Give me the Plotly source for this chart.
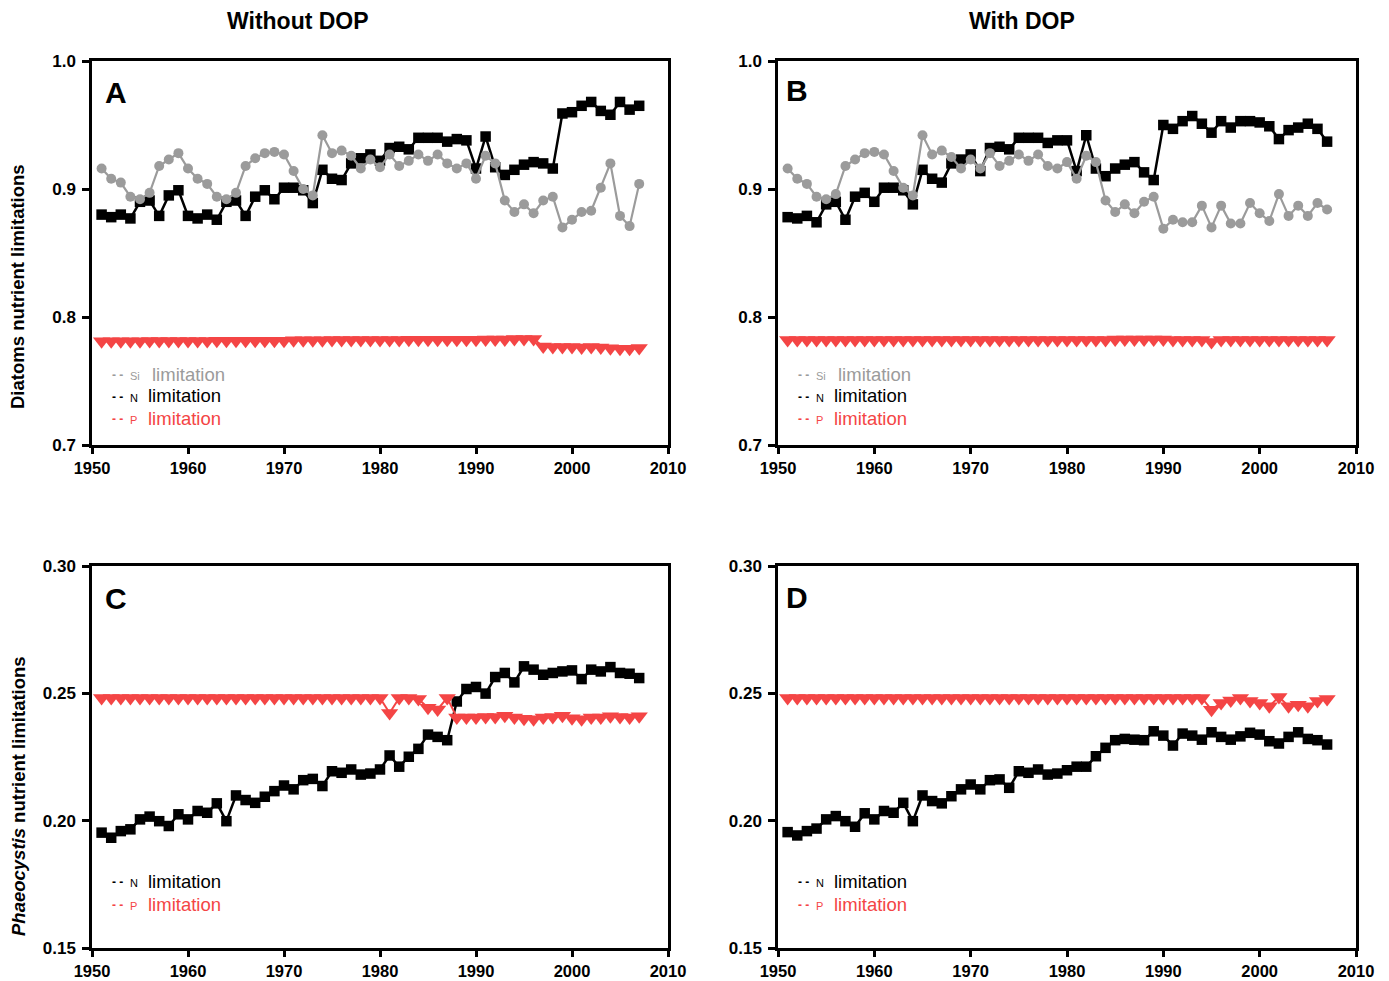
import plotly.graph_objects as go

# page body has an 8px margin: figure is drawn 8px right/down of the window corner
OFF = 8
WIN_W, WIN_H = 1389, 981
W, H = WIN_W - OFF, WIN_H - OFF
years = list(range(1951, 2008))

a_si = [0.916, 0.908, 0.905, 0.894, 0.892, 0.897, 0.918, 0.923, 0.928, 0.916,
        0.908, 0.904, 0.894, 0.892, 0.897, 0.918, 0.924, 0.928, 0.929, 0.927,
        0.914, 0.900, 0.895, 0.942, 0.928, 0.930, 0.926, 0.916, 0.923, 0.917,
        0.927, 0.918, 0.922, 0.927, 0.922, 0.927, 0.920, 0.916, 0.920, 0.908,
        0.926, 0.920, 0.891, 0.882, 0.888, 0.881, 0.891, 0.894, 0.870, 0.876,
        0.882, 0.883, 0.901, 0.920, 0.879, 0.871, 0.904]
a_n = [0.880, 0.878, 0.880, 0.877, 0.890, 0.891, 0.879, 0.895, 0.899, 0.879,
       0.877, 0.880, 0.876, 0.890, 0.891, 0.879, 0.894, 0.899, 0.892, 0.901,
       0.901, 0.899, 0.889, 0.915, 0.908, 0.907, 0.920, 0.924, 0.927, 0.922,
       0.932, 0.933, 0.931, 0.940, 0.940, 0.940, 0.937, 0.939, 0.938, 0.916,
       0.941, 0.917, 0.911, 0.915, 0.919, 0.921, 0.920, 0.916, 0.959, 0.960,
       0.965, 0.968, 0.961, 0.958, 0.968, 0.962, 0.965]
a_p = [0.7810, 0.7810, 0.7810, 0.7810, 0.7810, 0.7812, 0.7812, 0.7812, 0.7812, 0.7812,
       0.7812, 0.7812, 0.7815, 0.7815, 0.7815, 0.7815, 0.7815, 0.7815, 0.7815, 0.7815,
       0.7818, 0.7818, 0.7818, 0.7818, 0.7820, 0.7820, 0.7820, 0.7820, 0.7820, 0.7820,
       0.7820, 0.7820, 0.7822, 0.7822, 0.7822, 0.7822, 0.7822, 0.7822, 0.7822, 0.7822,
       0.7825, 0.7825, 0.7825, 0.7828, 0.7828, 0.7828, 0.7770, 0.7765, 0.7765, 0.7765,
       0.7762, 0.7765, 0.7762, 0.7755, 0.7752, 0.7752, 0.7758]

b_si = [0.916, 0.908, 0.904, 0.894, 0.892, 0.896, 0.918, 0.923, 0.928, 0.929,
        0.927, 0.914, 0.901, 0.895, 0.942, 0.927, 0.930, 0.925, 0.916, 0.923,
        0.916, 0.928, 0.918, 0.922, 0.927, 0.922, 0.927, 0.918, 0.916, 0.921,
        0.908, 0.926, 0.921, 0.891, 0.882, 0.888, 0.881, 0.890, 0.894, 0.869,
        0.876, 0.874, 0.874, 0.887, 0.870, 0.887, 0.873, 0.873, 0.889, 0.881,
        0.875, 0.896, 0.879, 0.887, 0.879, 0.889, 0.884]
b_n = [0.878, 0.877, 0.879, 0.874, 0.888, 0.890, 0.876, 0.894, 0.897, 0.890,
       0.901, 0.901, 0.899, 0.888, 0.915, 0.908, 0.905, 0.920, 0.923, 0.927,
       0.914, 0.932, 0.933, 0.931, 0.940, 0.940, 0.940, 0.936, 0.938, 0.938,
       0.914, 0.942, 0.916, 0.910, 0.916, 0.919, 0.921, 0.913, 0.907, 0.950,
       0.947, 0.953, 0.957, 0.951, 0.944, 0.953, 0.948, 0.953, 0.953, 0.952,
       0.949, 0.939, 0.946, 0.948, 0.951, 0.947, 0.937]
b_p = [0.7820, 0.7820, 0.7820, 0.7820, 0.7820, 0.7820, 0.7820, 0.7820, 0.7820, 0.7820,
       0.7820, 0.7820, 0.7820, 0.7820, 0.7820, 0.7820, 0.7820, 0.7820, 0.7820, 0.7820,
       0.7820, 0.7820, 0.7820, 0.7820, 0.7820, 0.7820, 0.7820, 0.7820, 0.7820, 0.7820,
       0.7820, 0.7820, 0.7820, 0.7820, 0.7825, 0.7825, 0.7825, 0.7825, 0.7825, 0.7825,
       0.7820, 0.7820, 0.7820, 0.7820, 0.7805, 0.7820, 0.7820, 0.7820, 0.7820, 0.7820,
       0.7820, 0.7820, 0.7820, 0.7820, 0.7820, 0.7820, 0.7820]

c_n = [0.1953, 0.1933, 0.1959, 0.1966, 0.2005, 0.2016, 0.1998, 0.1979, 0.2025, 0.2005,
       0.2038, 0.2031, 0.2068, 0.1998, 0.2099, 0.2081, 0.2070, 0.2094, 0.2116, 0.2138,
       0.2123, 0.2159, 0.2164, 0.2136, 0.2194, 0.2188, 0.2201, 0.2181, 0.2185, 0.2201,
       0.2256, 0.2212, 0.2251, 0.2282, 0.2338, 0.2329, 0.2316, 0.2468, 0.2517, 0.2525,
       0.2499, 0.2564, 0.2580, 0.2543, 0.2606, 0.2593, 0.2573, 0.2580, 0.2586, 0.2590,
       0.2556, 0.2593, 0.2586, 0.2603, 0.2580, 0.2577, 0.2560]
c_p = [0.2482, 0.2482, 0.2482, 0.2482, 0.2482, 0.2482, 0.2482, 0.2482, 0.2482, 0.2482,
       0.2482, 0.2482, 0.2482, 0.2482, 0.2482, 0.2482, 0.2482, 0.2482, 0.2482, 0.2482,
       0.2482, 0.2482, 0.2482, 0.2482, 0.2482, 0.2482, 0.2482, 0.2482, 0.2482, 0.2482,
       0.2423, 0.2482, 0.2482, 0.2478, 0.2443, 0.2437, 0.2482, 0.2405, 0.2405, 0.2405,
       0.2407, 0.2407, 0.2412, 0.2405, 0.2400, 0.2398, 0.2405, 0.2407, 0.2412, 0.2402,
       0.2398, 0.2405, 0.2405, 0.2410, 0.2407, 0.2405, 0.2410]

d_n = [0.1955, 0.1942, 0.1959, 0.1969, 0.2005, 0.2018, 0.1998, 0.1976, 0.2029, 0.2005,
       0.2038, 0.2031, 0.2070, 0.1998, 0.2099, 0.2077, 0.2068, 0.2096, 0.2123, 0.2142,
       0.2123, 0.2159, 0.2162, 0.2129, 0.2194, 0.2188, 0.2201, 0.2181, 0.2185, 0.2198,
       0.2212, 0.2212, 0.2253, 0.2286, 0.2316, 0.2321, 0.2318, 0.2316, 0.2351, 0.2334,
       0.2295, 0.2342, 0.2334, 0.2318, 0.2347, 0.2329, 0.2318, 0.2331, 0.2345, 0.2338,
       0.2312, 0.2303, 0.2329, 0.2347, 0.2321, 0.2316, 0.2299]
d_p = [0.2482, 0.2482, 0.2482, 0.2482, 0.2482, 0.2482, 0.2482, 0.2482, 0.2482, 0.2482,
       0.2482, 0.2482, 0.2482, 0.2482, 0.2482, 0.2482, 0.2482, 0.2482, 0.2482, 0.2482,
       0.2482, 0.2482, 0.2482, 0.2482, 0.2482, 0.2482, 0.2482, 0.2482, 0.2482, 0.2482,
       0.2482, 0.2482, 0.2482, 0.2482, 0.2482, 0.2482, 0.2482, 0.2482, 0.2482, 0.2482,
       0.2482, 0.2482, 0.2482, 0.2482, 0.2436, 0.2462, 0.2472, 0.2482, 0.2470, 0.2462,
       0.2449, 0.2486, 0.2449, 0.2455, 0.2449, 0.2470, 0.2478]

x_ticks = [1950, 1960, 1970, 1980, 1990, 2000, 2010]
top_ticks = [0.7, 0.8, 0.9, 1.0]
bot_ticks = [0.15, 0.20, 0.25, 0.30]

GREY = "#9b9b9b"
BLACK = "#000000"
RED = "#f44545"
FONT = "Liberation Sans, Arial, sans-serif"

# plot-area rectangles in window pixels (left, right, top, bottom)
rects = {
    "A": (92, 668, 61, 445),
    "B": (778, 1356, 61, 445),
    "C": (92, 668, 566, 948),
    "D": (778, 1356, 566, 948),
}

fig = go.Figure()

def px2paper_x(px):
    return (px - OFF) / W

def px2paper_y(py):
    return 1 - (py - OFF) / H

panels = [
    ("A", 1, [("si", a_si), ("n", a_n), ("p", a_p)], top_ticks, ".1f", [0.7, 1.0]),
    ("B", 2, [("si", b_si), ("n", b_n), ("p", b_p)], top_ticks, ".1f", [0.7, 1.0]),
    ("C", 3, [("n", c_n), ("p", c_p)], bot_ticks, ".2f", [0.15, 0.30]),
    ("D", 4, [("n", d_n), ("p", d_p)], bot_ticks, ".2f", [0.15, 0.30]),
]

styles = {
    "n": dict(color=BLACK, symbol="square", size=10.5, lw=2.5),
    "si": dict(color=GREY, symbol="circle", size=10, lw=2.2),
    "p": dict(color=RED, symbol="triangle-down", size=15, lw=2),
}

layout_axes = {}
for letter, idx, series, yt, fmt, yr in panels:
    l, r, t, b = rects[letter]
    xa = "x" if idx == 1 else f"x{idx}"
    ya = "y" if idx == 1 else f"y{idx}"
    order = sorted(series, key=lambda s: {"n": 0, "si": 1, "p": 2}[s[0]])
    for key, vals in order:
        st = styles[key]
        fig.add_trace(go.Scatter(
            x=years, y=vals, mode="lines+markers", xaxis=xa, yaxis=ya,
            line=dict(color=st["color"], width=st["lw"]),
            marker=dict(symbol=st["symbol"], size=st["size"], color=st["color"],
                        line=dict(width=0)),
            showlegend=False, hoverinfo="skip"))
    axis_common = dict(showline=True, linecolor="black", linewidth=2.5, mirror=True,
                       ticks="outside", tickwidth=2.5, tickcolor="black",
                       showgrid=False, zeroline=False, automargin=False)
    layout_axes["xaxis" if idx == 1 else f"xaxis{idx}"] = dict(
        domain=[px2paper_x(l), px2paper_x(r)], range=[1950, 2010],
        tickvals=x_ticks, anchor=ya, ticklen=6,
        tickfont=dict(family=FONT, size=16.5, color="black", weight="bold"),
        **axis_common)
    layout_axes["yaxis" if idx == 1 else f"yaxis{idx}"] = dict(
        domain=[px2paper_y(b), px2paper_y(t)], range=yr,
        tickvals=yt, tickformat=fmt, anchor=xa, ticklen=7, ticklabelstandoff=3,
        tickfont=dict(family=FONT, size=17, color="black", weight="bold"),
        **axis_common)

annotations = []

def ann(text, px, py, size, color="black", bold=False, xanchor="center",
        angle=0):
    annotations.append(dict(
        text=text, x=px2paper_x(px), y=px2paper_y(py), xref="paper", yref="paper",
        xanchor=xanchor, yanchor="middle", showarrow=False, textangle=angle,
        font=dict(family=FONT, size=size, color=color,
                  weight="bold" if bold else "normal")))

# column titles
ann("Without DOP", 298, 21, 23, bold=True)
ann("With DOP", 1022, 21, 23, bold=True)
# panel letters
ann("A", 116, 92, 30, bold=True)
ann("B", 797, 91, 30, bold=True)
ann("C", 116, 598, 30, bold=True)
ann("D", 797, 597, 30, bold=True)
# y-axis titles
ann("Diatoms nutrient limitations", 18, 287, 18.5, bold=True, angle=-90)
ann("<i>Phaeocystis</i> nutrient limitations", 18, 796, 18.5, bold=True, angle=-90)

def legend_rows(x0, rows):
    for label, color, py, lx in rows:
        ann("- -", x0, py + 1, 12, color=color, bold=True, xanchor="left")
        ann(label, x0 + 18, py + 2, 11, color=color, xanchor="left")
        ann("limitation", x0 + lx, py, 18.5, color=color, xanchor="left")

legend_rows(110, [("Si", GREY, 374, 40), ("N", BLACK, 396, 36), ("P", RED, 418, 36)])
legend_rows(796, [("Si", GREY, 374, 40), ("N", BLACK, 396, 36), ("P", RED, 418, 36)])
legend_rows(110, [("N", BLACK, 881, 36), ("P", RED, 904, 36)])
legend_rows(796, [("N", BLACK, 881, 36), ("P", RED, 904, 36)])

fig.update_layout(
    width=W, height=H, margin=dict(l=0, r=0, t=0, b=0, autoexpand=False),
    paper_bgcolor="white", plot_bgcolor="white",
    annotations=annotations, **layout_axes)

fig.write_html("out.html")
